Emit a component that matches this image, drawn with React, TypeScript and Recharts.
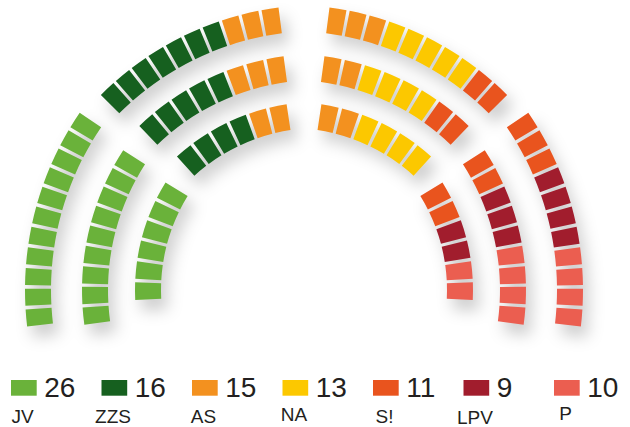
import React from 'react';
import { PieChart, Pie, Cell } from 'recharts';

const parties = ['JV', 'ZZS', 'AS', 'NA', 'S!', 'LPV', 'P'];
const seats = [26, 16, 15, 13, 11, 9, 10];
const colors = ['#6AB23A', '#16601F', '#F3911F', '#FCC800', '#E9541E', '#A11D2D', '#EB5E50'];

// the hemicycle is cut in 4 blocks, clockwise from the bottom left
const blockParties = [['JV'], ['ZZS', 'AS'], ['AS', 'NA', 'S!'], ['S!', 'LPV', 'P']];
// seats of each party per row of a block
const outerRow = [[11], [7, 3], [3, 5, 2], [3, 4, 4]];
const middleRow = [[9], [5, 3], [2, 4, 2], [2, 3, 4]];
const innerRow = [[6], [4, 2], [2, 4, 0], [2, 2, 2]];
const rows = [outerRow, middleRow, innerRow];

// block geometry: centre, row radius, angle of first / last seat (degrees)
const blocks = [
  { cx: 340, cy: 290, r: [302, 245, 192], from: [185.1, 185.8, 180.3], to: [147.3, 149.1, 150.8] },
  { cx: 318, cy: 312, r: [294, 245, 197], from: [133.4, 131.9, 129.8], to: [99.0, 99.6, 101.0] },
  { cx: 290, cy: 312, r: [294, 245, 197], from: [81.0, 80.4, 79.0], to: [46.6, 48.1, 50.2] },
  { cx: 268, cy: 290, r: [302, 245, 192], from: [32.7, 30.9, 29.2], to: [-5.1, -5.8, -0.3] },
];
const SEAT_W = 16.5;
const SEAT_H = 26;

const colorOf = (party: string) => colors[parties.indexOf(party)];

const rowSeats = (b: number, k: number) => {
  const out: { party: string; value: number }[] = [];
  rows[k][b].forEach((count, i) => {
    for (let s = 0; s < count; s++) out.push({ party: blockParties[b][i], value: 1 });
  });
  return out;
};

const font = '"Liberation Sans", Arial, sans-serif';
const labelDy = [0, 0, 0.5, -1.5, 0.5, 1, -2.5];

const App: React.FC = () => {
  const pies: React.ReactNode[] = [];
  blocks.forEach((blk, b) => {
    rows.forEach((_, k) => {
      const data = rowSeats(b, k);
      const n = data.length;
      const R = blk.r[k];
      const w = (SEAT_W / R) * (180 / Math.PI);
      const pitch = (blk.from[k] - blk.to[k]) / (n - 1);
      pies.push(
        <Pie
          key={`b${b}-r${k}`}
          data={data}
          dataKey="value"
          cx={blk.cx}
          cy={blk.cy}
          innerRadius={R - SEAT_H / 2}
          outerRadius={R + SEAT_H / 2}
          startAngle={blk.from[k] + w / 2}
          endAngle={blk.to[k] - w / 2}
          paddingAngle={pitch - w}
          stroke="none"
          isAnimationActive={false}
        >
          {data.map((d, i) => (
            <Cell key={`c-${i}`} fill={colorOf(d.party)} />
          ))}
        </Pie>
      );
    });
  });

  return (
    <div style={{ position: 'absolute', left: 0, top: 0, width: 630, height: 427, background: '#fff', overflow: 'hidden' }}>
      <div style={{ position: 'absolute', left: 0, top: 0, filter: 'drop-shadow(6px 10px 8px rgba(0,0,0,0.22))' }}>
        <PieChart width={630} height={370} margin={{ top: 0, right: 0, bottom: 0, left: 0 }}>
          {pies}
        </PieChart>
      </div>
      <svg width={630} height={427} style={{ position: 'absolute', left: 0, top: 0 }}>
        {parties.map((p, i) => {
          const x0 = 11 + 90.5 * i;
          return (
            <g key={p}>
              <rect x={x0} y={380} width={25.7} height={15.7} fill={colors[i]} />
              <text x={x0 + 33.3} y={397.3} fontFamily={font} fontSize={28} fill="#231F20">
                {seats[i]}
              </text>
              <text x={x0 + 11.5} y={422.5 + labelDy[i]} fontFamily={font} fontSize={19} fill="#231F20" textAnchor="middle">
                {p}
              </text>
            </g>
          );
        })}
      </svg>
    </div>
  );
};

export default App;
